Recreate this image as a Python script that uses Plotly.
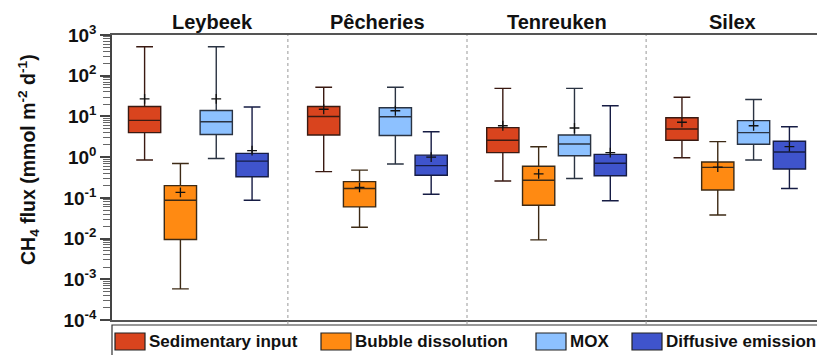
import plotly.graph_objects as go

sites = ["Leybeek", "Pêcheries", "Tenreuken", "Silex"]
series = ["Sedimentary input", "Bubble dissolution", "MOX", "Diffusive emission"]
fill_colors = ["#D9441E", "#FF8A12", "#8DC1FF", "#3F54CC"]
line_colors = ["#3a1a12", "#3d2a15", "#2a3342", "#161c44"]

# per series, values per site (Leybeek, Pêcheries, Tenreuken, Silex)
lowerfence = {
    "Sedimentary input": [0.85, 0.44, 0.26, 0.97],
    "Bubble dissolution": [0.00058, 0.019, 0.0093, 0.038],
    "MOX": [0.93, 0.68, 0.30, 0.85],
    "Diffusive emission": [0.087, 0.123, 0.085, 0.17],
}
q1 = {
    "Sedimentary input": [4.0, 3.5, 1.29, 2.6],
    "Bubble dissolution": [0.0095, 0.06, 0.066, 0.156],
    "MOX": [3.6, 3.4, 1.08, 2.07],
    "Diffusive emission": [0.33, 0.36, 0.35, 0.51],
}
median = {
    "Sedimentary input": [8.0, 10.0, 2.6, 4.9],
    "Bubble dissolution": [0.087, 0.17, 0.27, 0.56],
    "MOX": [7.4, 9.8, 2.1, 4.0],
    "Diffusive emission": [0.80, 0.62, 0.71, 1.34],
}
q3 = {
    "Sedimentary input": [17.5, 17.5, 5.3, 9.3],
    "Bubble dissolution": [0.20, 0.25, 0.60, 0.76],
    "MOX": [14.0, 16.4, 3.5, 7.9],
    "Diffusive emission": [1.24, 1.12, 1.17, 2.45],
}
upperfence = {
    "Sedimentary input": [516, 52, 49, 29.5],
    "Bubble dissolution": [0.70, 0.48, 1.8, 2.4],
    "MOX": [516, 52, 49, 26],
    "Diffusive emission": [17, 4.2, 18.3, 5.6],
}
mean = {
    "Sedimentary input": [27, 15, 5.9, 7.2],
    "Bubble dissolution": [0.137, 0.18, 0.39, 0.57],
    "MOX": [27, 13.8, 5.2, 5.9],
    "Diffusive emission": [1.44, 1.0, 1.29, 1.82],
}

FONT = "Liberation Sans, Arial, sans-serif"
group_span = 5

fig = go.Figure()
for j, s in enumerate(series):
    xs = [i * group_span + j + 1 for i in range(len(sites))]
    fig.add_trace(go.Box(
        name=s, x=xs,
        q1=q1[s], median=median[s], q3=q3[s],
        lowerfence=lowerfence[s], upperfence=upperfence[s],
        width=0.9, whiskerwidth=0.52,
        fillcolor=fill_colors[j],
        line=dict(color=line_colors[j], width=1.4),
        boxpoints=False, showlegend=False, hoverinfo="skip",
    ))
    fig.add_trace(go.Scatter(
        x=xs, y=mean[s], mode="markers", showlegend=False,
        marker=dict(symbol="cross-thin", size=7,
                    line=dict(color="#111", width=1.3)),
        hoverinfo="skip",
    ))

# plot-area geometry
L, T, B = 112, 35, 35
H = 355
plot_h = H - T - B
W = 817 - L

def px_x(px):
    return (px - L) / W

def px_y(py):
    return (H - B - py) / plot_h

shapes = []
# dotted separators between sites
for i in range(1, len(sites)):
    shapes.append(dict(type="line", xref="x", yref="paper",
                       x0=i * group_span, x1=i * group_span, y0=px_y(324), y1=1,
                       line=dict(color="#999", width=1, dash="dot")))

annotations = []
site_label_x = [2.9, 7.5, 12.5, 17.4]
for i, name in enumerate(sites):
    annotations.append(dict(x=site_label_x[i], y=px_y(22),
                            xref="x", yref="paper", text="<b>%s</b>" % name,
                            showarrow=False, xanchor="center", yanchor="middle",
                            font=dict(family=FONT, size=20, color="#111")))

# y-axis title
annotations.append(dict(x=px_x(28), y=px_y(160),
                        xref="paper", yref="paper",
                        text="<b>CH<sub>4</sub> flux (mmol m<sup>-2</sup> d<sup>-1</sup>)</b>",
                        textangle=-90, showarrow=False, xanchor="center", yanchor="middle",
                        font=dict(family=FONT, size=19.5, color="#111")))

# legend (drawn as frame + swatches + labels in the bottom margin)
shapes.append(dict(type="rect", xref="paper", yref="paper",
                   x0=px_x(112), x1=px_x(830), y0=px_y(325), y1=px_y(362),
                   line=dict(color="#333", width=1.2), fillcolor="rgba(0,0,0,0)"))
legend_swatch_x = [115, 321, 536, 632]
for j, s in enumerate(series):
    x0 = legend_swatch_x[j]
    shapes.append(dict(type="rect", xref="paper", yref="paper",
                       x0=px_x(x0), x1=px_x(x0 + 30), y0=px_y(350), y1=px_y(333),
                       line=dict(color="#222", width=1.2), fillcolor=fill_colors[j]))
    annotations.append(dict(x=px_x(x0 + 32), y=px_y(341.5), xref="paper", yref="paper",
                            text="<b>%s</b>" % s, showarrow=False,
                            xanchor="left", yanchor="middle",
                            font=dict(family=FONT, size=17, color="#111")))

major = [10.0 ** k for k in range(-4, 4)]
major_text = ["<b>10<sup>%d</sup></b>" % k for k in range(-4, 4)]
minor_vals = [m * 10.0 ** k for k in range(-4, 3) for m in range(2, 10)]

fig.update_layout(
    width=817, height=355,
    margin=dict(l=L, r=0, t=T, b=B),
    paper_bgcolor="white", plot_bgcolor="white",
    boxmode="overlay",
    shapes=shapes, annotations=annotations,
    xaxis=dict(range=[0.09, 19.77], showticklabels=False, ticks="",
               showgrid=False, zeroline=False, showline=True, mirror=True,
               linecolor="#555", linewidth=2),
    yaxis=dict(type="log", range=[-4, 3], tickvals=major, ticktext=major_text,
               ticks="outside", ticklen=10, tickwidth=1.5, tickcolor="#444",
               showgrid=False, zeroline=False, showline=True, linecolor="#444",
               linewidth=1.5,
               tickfont=dict(family=FONT, size=19, color="#111"),
               minor=dict(tickvals=minor_vals, ticks="outside", ticklen=7,
                          tickwidth=1, tickcolor="#666", showgrid=False)),
)

fig.write_html("out.html")
